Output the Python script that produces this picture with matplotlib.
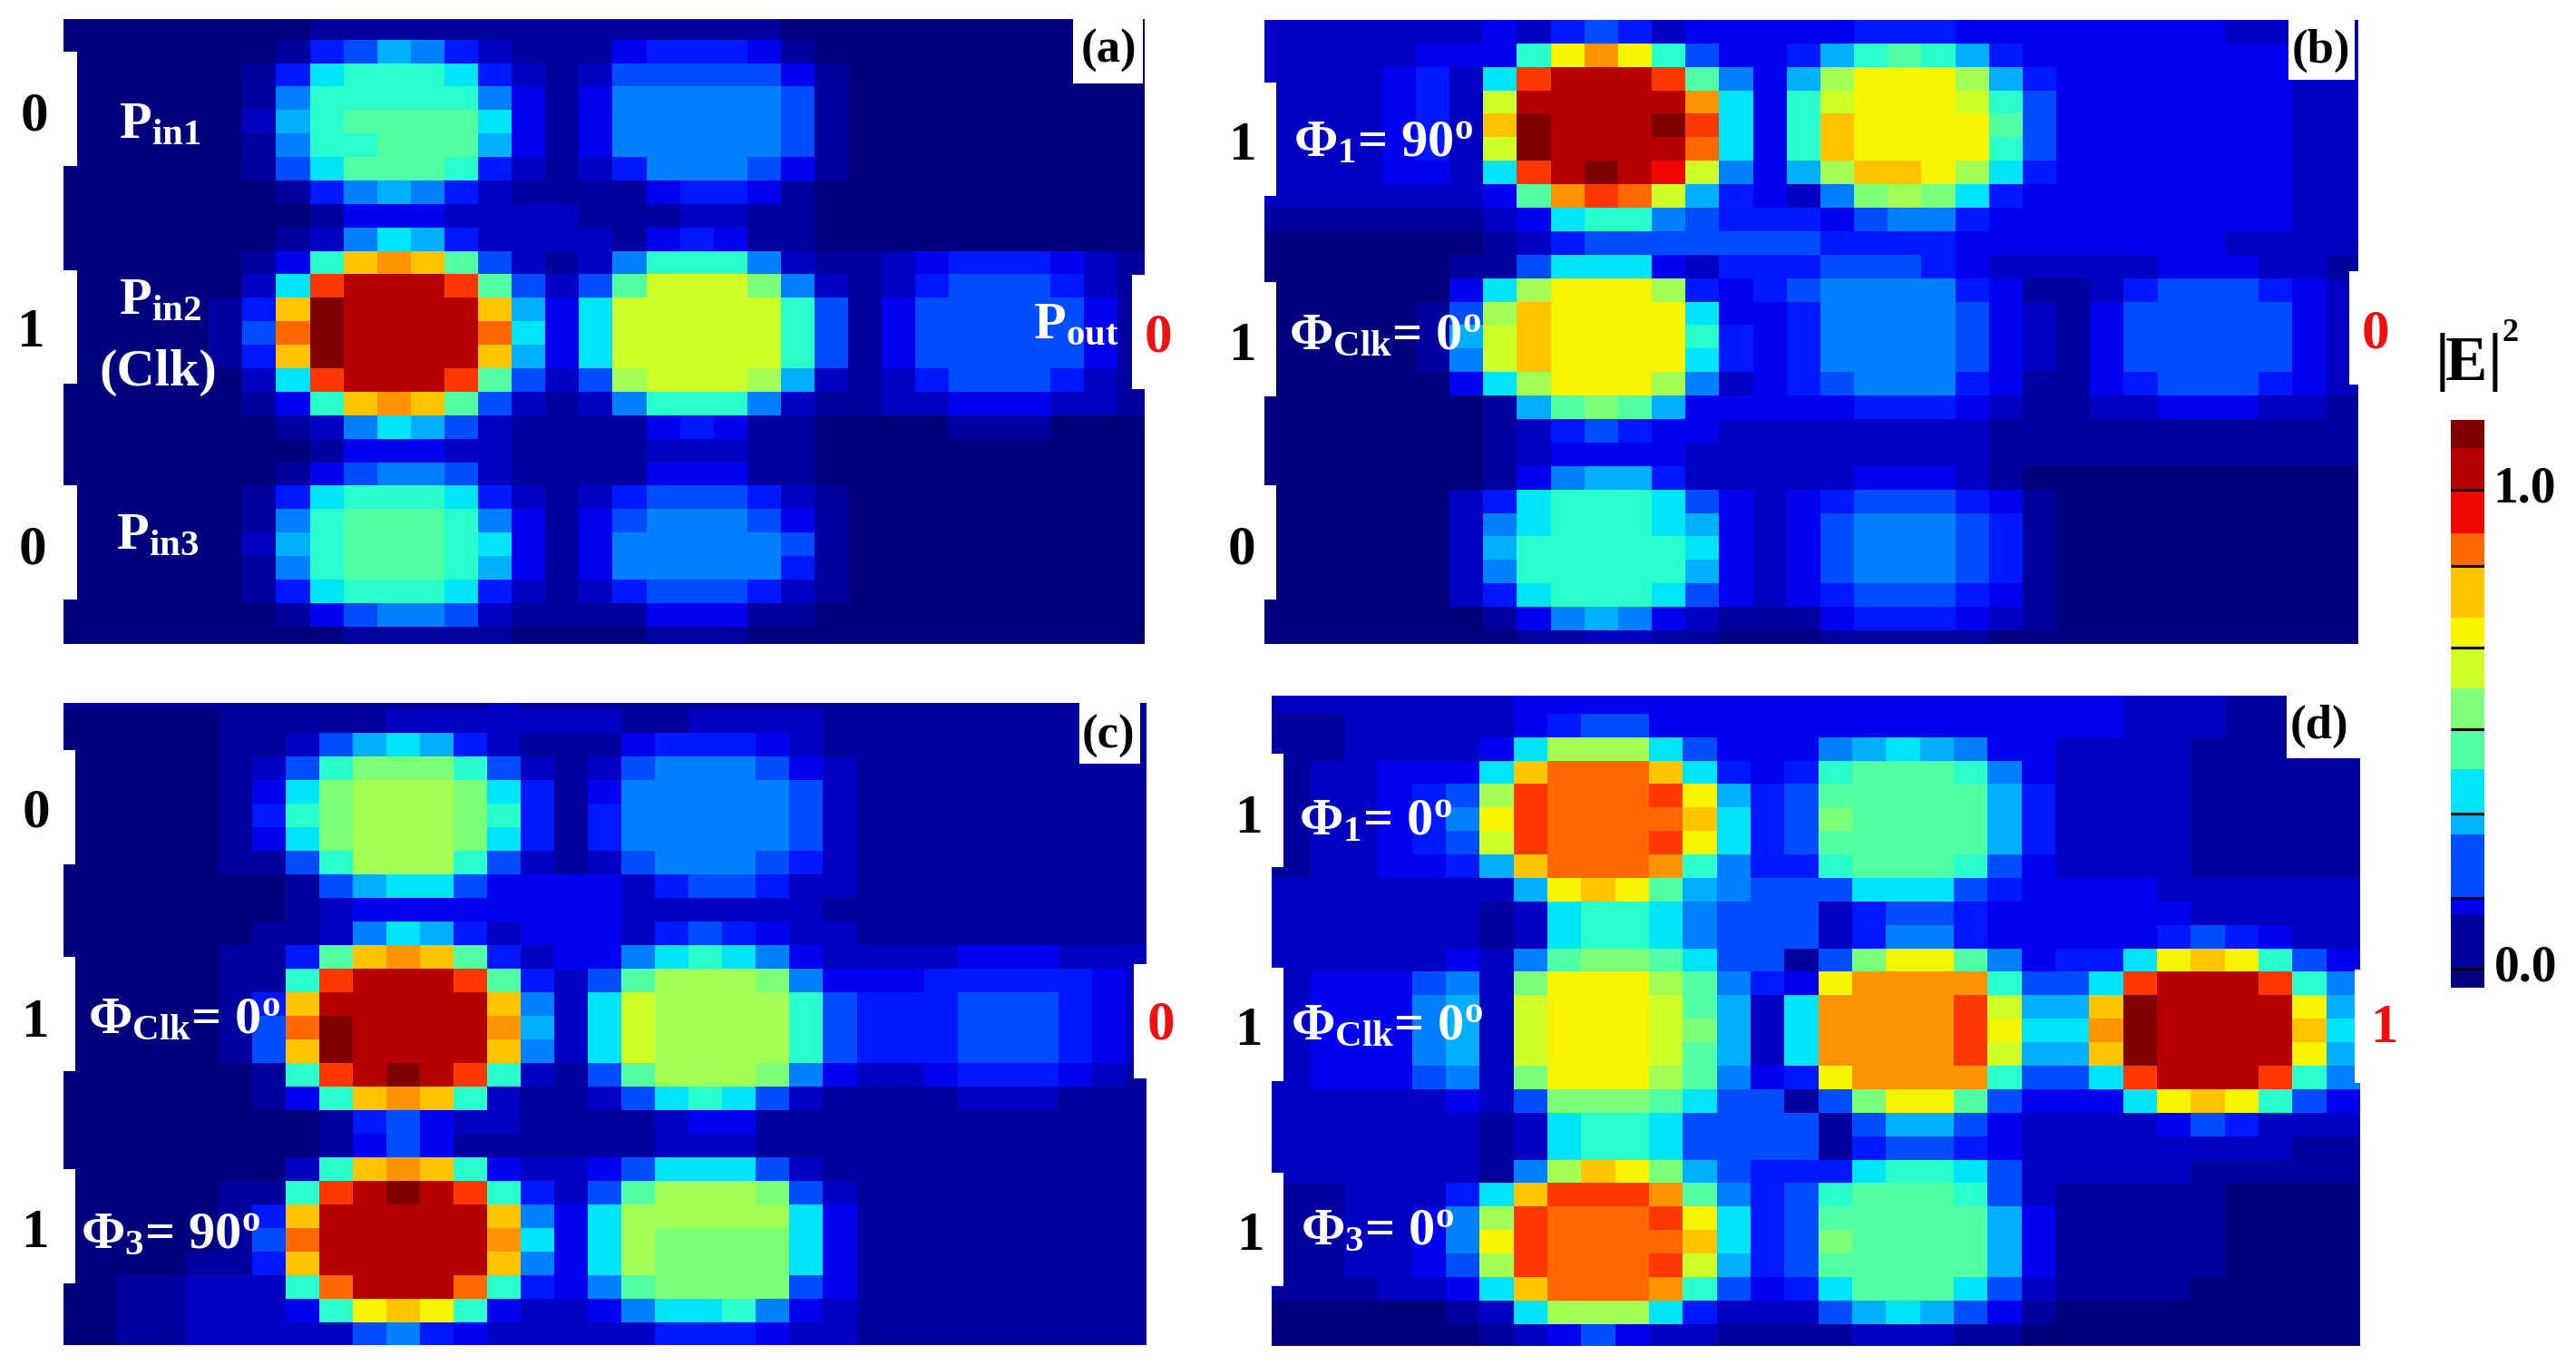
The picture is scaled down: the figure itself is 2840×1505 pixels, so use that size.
import numpy as np
import matplotlib
matplotlib.use("Agg")
import matplotlib.pyplot as plt
from matplotlib.patches import Rectangle

plt.rcParams["font.family"] = ["Liberation Serif", "DejaVu Serif"]
plt.rcParams["font.weight"] = "bold"
plt.rcParams["mathtext.fontset"] = "custom"
plt.rcParams["mathtext.rm"] = "Liberation Serif:bold"
plt.rcParams["mathtext.bf"] = "Liberation Serif:bold"
plt.rcParams["mathtext.it"] = "Liberation Serif:bold"
plt.rcParams["mathtext.default"] = "bf"

# field intensity, one character per cell (see LEVELS)
LEVELS = dict(zip("0123456789abcdefghijkl",
                  [0, .03, .06, .10, .15, .20, .25, .30, .35, .40, .45, .50,
                   .55, .60, .65, .70, .75, .80, .85, .90, .95, 1.0]))

PANEL_A = [
    "00000000 11111 1111 11111 0000 00000 00",
    "00000001 45764 2111 34443 1000 00000 00",
    "00000014 89998 4212 55555 3100 00000 00",
    "00000016 99999 6313 66666 5100 00000 00",
    "00000027 9aaaa 8313 66666 5100 00000 00",
    "00000016 99aaa 7313 66666 5100 00000 00",
    "00000015 8aaa9 4212 46665 3100 00000 00",
    "00000001 46764 2111 13443 1000 00000 00",
    "00000000 13332 2221 11221 1000 00000 00",
    "00000001 26874 2222 13431 1000 00000 00",
    "00000013 9fgfa 5212 69996 2112 34443 21",
    "00000028 ikkki a525 adddb 6212 45554 21",
    "0000014f lkkkk f738 ddddd 9513 55555 31",
    "0000015h lkkkk h838 ddddd 9513 55555 31",
    "0000014f lkkkk f738 ddddd 9513 55555 31",
    "00000028 ikkki a525 cdddc 7212 45554 21",
    "00000013 9fgfa 5212 69996 2112 23332 21",
    "00000001 26875 2111 13431 1000 01110 00",
    "00000000 13332 2111 12221 1000 00000 00",
    "00000001 35665 2111 13331 1000 00000 00",
    "00000014 89998 4212 45554 2100 00000 00",
    "00000016 9aaa9 6313 56665 3100 00000 00",
    "00000027 9aaa9 8313 66666 5100 00000 00",
    "00000016 9aaa9 7313 66666 4100 00000 00",
    "00000014 89998 4212 45554 2100 00000 00",
    "00000001 35665 2111 13331 1000 00000 00",
    "00000000 01111 1000 01110 0000 00000 00",
]

PANEL_B = [
    "22222223 24542 3333 34443 3333 33322 21",
    "22222333 9ege9 5334 79a97 4333 33333 22",
    "22223428 ikkki a637 ceeec 7433 33333 22",
    "2222342d kkkkk g839 deeed 9533 33333 22",
    "2222342f lkkkl i839 feeee a533 33333 22",
    "2222342d lkkkk h839 feeee 9533 33333 22",
    "22223328 iklkj d637 cffec 8433 33333 22",
    "22222223 agihd 7432 6bcb8 4333 33333 22",
    "11111112 38996 5444 35664 3333 33333 22",
    "00000001 24555 5555 44443 3333 33322 22",
    "00000011 58883 2444 55543 2222 23332 21",
    "00000038 ceeec 4345 66664 3112 45554 32",
    "0000015c feeee 8334 66665 3213 55555 32",
    "0000017d feeee 9434 66665 3213 55555 32",
    "0000016d feeee 8434 66665 3213 55555 32",
    "00000038 ceeec 6234 56664 3113 45554 32",
    "00000001 7aba7 3333 34443 2112 23332 21",
    "00000001 24543 3222 22222 1111 11111 11",
    "00000001 23333 2222 22222 1111 11111 11",
    "00000001 36774 2222 23332 1000 00000 00",
    "00000024 89998 5323 45554 3100 00000 00",
    "00000026 89998 7323 56665 4100 00000 00",
    "00000027 99999 8323 56665 4100 00000 00",
    "00000026 99999 7323 56665 4100 00000 00",
    "00000024 89998 5323 45554 3100 00000 00",
    "00000001 36763 2111 34443 2100 00000 00",
    "00000000 11221 1000 11111 0000 00000 00",
]

PANEL_C = [
    "11111111 11111 2111 11111 1111 11111 11",
    "00000111 11222 2222 11222 2111 11111 11",
    "00000112 57874 2111 34443 2111 11111 11",
    "00000125 9bbb9 5212 56665 3211 11111 11",
    "00000138 bcccb 8413 66666 5211 11111 11",
    "00000149 bcccb 9414 66666 5211 11111 11",
    "00000138 bcccb 8414 66666 5211 11111 11",
    "00000115 9ccc9 5212 56665 4211 11111 11",
    "00000001 57885 3333 24554 2211 11111 11",
    "00000001 23333 3333 22222 2111 11111 11",
    "00000011 26874 2333 24543 2211 11111 11",
    "00000114 afgfa 4233 68986 3222 23332 22",
    "00000119 ikkki a425 acccb 6333 44444 32",
    "0000014f kkkkk f628 dcccc 9544 45554 32",
    "0000015h lkkkk g728 dcccc 9544 45554 32",
    "0000015f lkkkk f628 dcccc 9544 45554 32",
    "00000019 iklki 9215 acccb 6322 34443 21",
    "00000013 9fgf9 2112 58985 2111 12221 11",
    "00000000 14532 2111 12331 1111 11111 11",
    "00000000 13531 1111 12221 1111 11111 11",
    "00000002 9fgf9 3223 58885 2111 11111 11",
    "00000119 iklki 9425 acccb 5211 11111 11",
    "0000014f kkkkk f638 ccccc 8311 11111 11",
    "0000015h kkkkk g838 cbbbb 8311 11111 11",
    "0000114f kkkkk f638 cbbbb 8311 11111 11",
    "00112229 hkkkh 9436 abbbb 5311 11111 11",
    "00112223 9efe9 3223 68896 3211 11111 11",
    "00112222 25643 2222 24443 2211 11111 11",
]

PANEL_D = [
    "12222222 33333 3333 33333 3333 22211 11",
    "11122222 34553 3333 33333 3333 22211 11",
    "11122223 8ccc8 5333 67876 3322 22111 11",
    "11223338 fhhhf 8434 9aaa9 6322 22111 11",
    "1122345c ihhhi e745 aaaaa 7422 22111 11",
    "1122346e ihhhh f845 baaaa 7422 22111 11",
    "1122345d ihhhi e845 aaaaa 7422 22111 11",
    "11223347 fhhhg 9644 9aaa9 5322 22111 11",
    "22222222 7efea 7655 58885 4333 32222 22",
    "22222221 28998 6555 24554 3333 33222 22",
    "22222221 28998 6555 24664 3333 34543 22",
    "22222232 6abba 8551 5beea 6344 8efe9 53",
    "22333562 beeec a643 egggg 9558 ikkki 96",
    "22333672 deeed a728 ggggi d77f lkkkk e7",
    "22333672 deeed b728 ggggi e88g lkkkk f8",
    "22333672 deeed a728 ggggi d77f lkkkk e7",
    "22333562 beeec a634 egggg 9558 ikkki 96",
    "22222232 5bbba 8551 5beea 5333 8efe9 53",
    "22222221 28998 5555 15775 3222 23542 22",
    "22222221 28998 5555 14554 3222 22222 11",
    "22222221 6cfeb 7544 48998 5222 22111 11",
    "11122248 fiiig a645 9aaa9 5211 11100 00",
    "1112236c ihhhi e845 aaaaa 7311 11100 00",
    "1112236e ihhhh f845 baaaa 7311 11100 00",
    "1112235c ihhhi d745 aaaaa 7311 11100 00",
    "11112238 fhhhg 9534 8aaa8 5211 11000 00",
    "00000012 8ccc8 4222 57875 3100 00000 00",
    "00000001 23532 2111 12221 1000 00000 00",
]

# colour bar bands, bottom to top
CBAR_EDGES = [-0.04, 0.0, 0.113, 0.147, 0.28, 0.325, 0.417, 0.50, 0.585, 0.672,
              0.732, 0.84, 0.908, 1.0, 1.087, 1.145]
CBAR_BANDS = "013578abdefhjkl"
CBAR_TICKS = [0.0, 0.147, 0.324, 0.499, 0.67, 0.841, 1.0]

W, H = 2840, 1505


def to_grid(rows):
    return np.array([[LEVELS[c] for c in r.replace(" ", "")] for r in rows])


def pixel_axes(x0, y0, x1, y1, **kw):
    return fig.add_axes([x0 / W, 1 - y1 / H, (x1 - x0) / W, (y1 - y0) / H], **kw)


fig = plt.figure(figsize=(W / 100, H / 100), dpi=100, facecolor="white")

# panel box, then left edge of column 8, column width, top of row 0, row height (px)
panels = [
    (PANEL_A, (70, 21.3, 1262, 709.6), 341.7, 37.1, 18.1, 25.86),
    (PANEL_B, (1394, 21.3, 2600, 709.6), 1672.6, 37.17, 21.7, 25.88),
    (PANEL_C, (70, 775.2, 1263.7, 1483.3), 351.8, 37.04, 757.8, 25.93),
    (PANEL_D, (1402, 767, 2604, 1483.5), 1668.7, 37.33, 761, 25.86),
]

for rows, box, col8, cw, top, rh in panels:
    grid = to_grid(rows)
    ax = pixel_axes(*box)
    ax.imshow(grid, cmap="jet", vmin=0, vmax=1, aspect="auto", interpolation="nearest",
              extent=[0, grid.shape[1], grid.shape[0], 0])
    ax.set_xlim(8 + (box[0] - col8) / cw, 8 + (box[2] - col8) / cw)
    ax.set_ylim((box[3] - top) / rh, (box[1] - top) / rh)
    ax.axis("off")

# colour bar
cax = pixel_axes(2702, 463, 2739, 1089)
cvals = np.array([[LEVELS[c]] for c in CBAR_BANDS])
cax.pcolormesh([0, 1], CBAR_EDGES, cvals, cmap="jet", vmin=0, vmax=1)
cax.hlines(CBAR_TICKS, 0, 1, color="black", lw=2.2)
cax.set_xlim(0, 1)
cax.set_ylim(CBAR_EDGES[0], CBAR_EDGES[-1])
cax.axis("off")

# overlay in picture pixels for the white tabs and all labels
over = fig.add_axes([0, 0, 1, 1], zorder=5)
over.set_xlim(0, W)
over.set_ylim(H, 0)
over.axis("off")

tabs = [
    (70, 56.6, 85, 183), (70, 297.5, 85, 423), (70, 535, 85, 661),
    (1248, 303, 1263, 429), (1183, 20, 1260, 92),
    (1394, 90.6, 1407, 216), (1394, 311, 1407, 436.5), (1394, 535, 1407, 661),
    (2590, 299, 2601, 424), (2523, 20, 2596, 88),
    (70, 826.5, 83, 952.6), (70, 1054.6, 83, 1180.7), (70, 1289, 83, 1415),
    (1250, 1063, 1264, 1188.6), (1190, 774, 1257, 842),
    (1402, 831, 1415, 956), (1402, 1067, 1415, 1192), (1402, 1293, 1415, 1418),
    (2595.5, 1069, 2605, 1194), (2521, 766, 2602, 835.5),
]
for x0, y0, x1, y1 in tabs:
    over.add_patch(Rectangle((x0, y0), x1 - x0, y1 - y0, fc="white", ec="none"))


def label(x, y, s, color="black", size=44):
    over.text(x, y, s, color=color, fontsize=size, ha="center", va="center")


for x, y, s in [(38, 128, "0"), (33, 367, "1"), (36, 606, "0"),
                (1369, 161, "1"), (1369, 382, "1"), (1369, 606, "0"),
                (40, 896, "0"), (38, 1128, "1"), (38, 1360, "1"),
                (1376, 903, "1"), (1376, 1137, "1"), (1378, 1363, "1")]:
    label(x, y, s)

for x, y, s in [(1277, 372, "0"), (2619, 368, "0"), (1280, 1130, "0"), (2628, 1134, "1")]:
    label(x, y, s, color="#f01010")

for x, y, s in [(1222, 56, "(a)"), (2559, 56, "(b)"), (1222, 812, "(c)"), (2557, 801, "(d)")]:
    label(x, y, s, size=38)

white_labels = [
    (176, 138, r"P$_{\mathbf{in1}}$"),
    (176, 332, r"P$_{\mathbf{in2}}$"),
    (174, 411, "(Clk)"),
    (174, 591, r"P$_{\mathbf{in3}}$"),
    (1186, 359, r"P$_{\mathbf{out}}$"),
    (1525, 158, r"Φ$_{\mathbf{1}}$= 90$^{\mathbf{o}}$"),
    (1527, 371, r"Φ$_{\mathbf{Clk}}$= 0$^{\mathbf{o}}$"),
    (203, 1125, r"Φ$_{\mathbf{Clk}}$= 0$^{\mathbf{o}}$"),
    (188, 1362, r"Φ$_{\mathbf{3}}$= 90$^{\mathbf{o}}$"),
    (1516, 906, r"Φ$_{\mathbf{1}}$= 0$^{\mathbf{o}}$"),
    (1529, 1132, r"Φ$_{\mathbf{Clk}}$= 0$^{\mathbf{o}}$"),
    (1518, 1358, r"Φ$_{\mathbf{3}}$= 0$^{\mathbf{o}}$"),
]
for x, y, s in white_labels:
    label(x, y, s, color="white", size=42)

# colour bar title and end labels
label(2719, 402, "E", size=50)
label(2693, 400, "|", size=52)
label(2751, 400, "|", size=52)
label(2767, 368, "2", size=26)
label(2783, 539, "1.0", size=40)
label(2785, 1068, "0.0", size=40)

fig.savefig("out.png", dpi=100, facecolor="white")
